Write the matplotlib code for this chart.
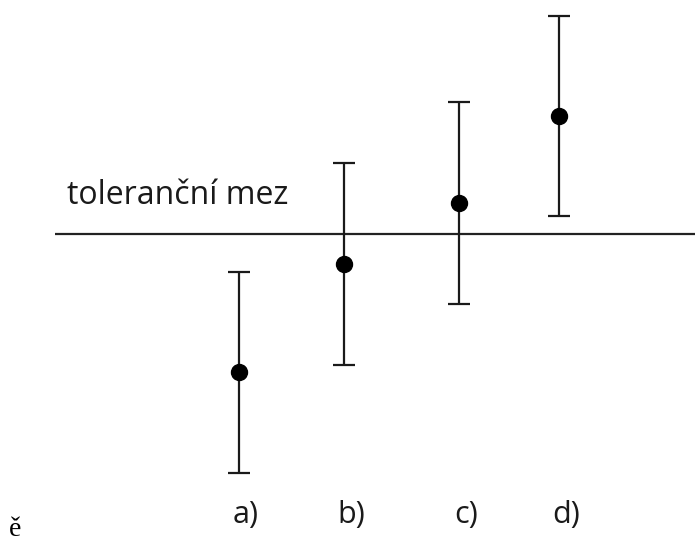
import matplotlib
matplotlib.use("Agg")
import matplotlib.pyplot as plt

# Measured values relative to the tolerance limit (limit = 0)
labels = ["a)", "b)", "c)", "d)"]
xpos = [239, 344, 459, 559]
values = [-13.8, -3.0, 3.1, 11.8]
errors = [10.05, 10.1, 10.1, 10.0]
limit = 0.0

fig = plt.figure(figsize=(6.95, 5.44), dpi=100)
ax = fig.add_axes([0, 0, 1, 1])
ax.set_xlim(0, 695)
ax.set_ylim(-31.0, 23.4)
ax.axis("off")

# tolerance line
ax.plot([55, 695], [limit, limit], color="#222222", lw=1.6, solid_capstyle="butt")
ax.text(67, limit + 3.9, "toleranční mez", fontsize=23, family="Open Sans",
        color="#1a1a1a", va="center", ha="left")

ax.errorbar(xpos, values, yerr=errors, fmt="o", color="black", ecolor="#1a1a1a",
            ms=11.5, elinewidth=1.6, capsize=8, capthick=1.6)

for x, lab in zip(xpos, labels):
    ax.text(x + 7, -28.1, lab, fontsize=22, family="Open Sans", color="#1a1a1a",
            ha="center", va="center")

ax.text(9, -29.6, "ě", fontsize=20, family="Liberation Serif", ha="left", va="center")

fig.savefig("out.png", dpi=100)
